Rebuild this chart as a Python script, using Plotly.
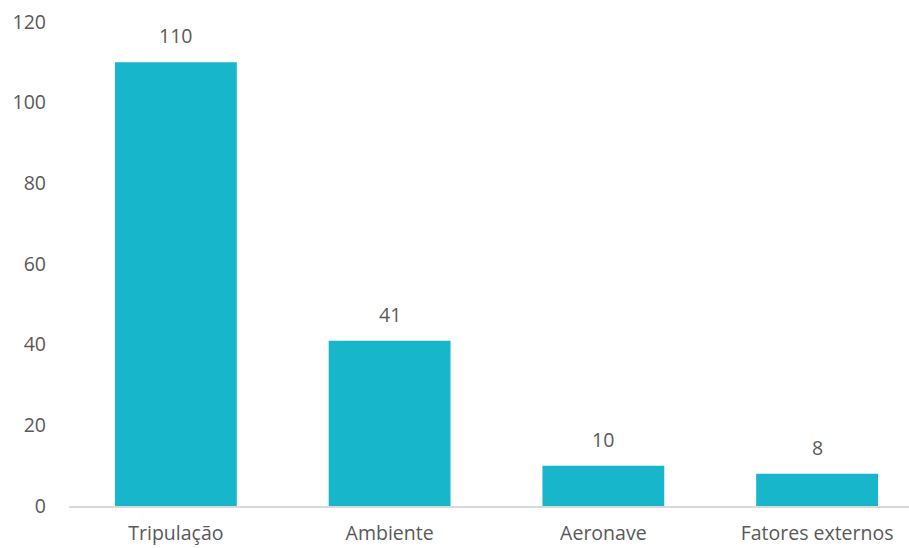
import plotly.graph_objects as go

categories = ["Tripulação", "Ambiente", "Aeronave", "Fatores externos"]
values = [110, 41, 10, 8]
y_ticks = [0, 20, 40, 60, 80, 100, 120]

bar_color = "#17B6CB"
text_color = "#595959"
font_family = "Open Sans"
fs = 19.5

fig = go.Figure()
fig.add_trace(go.Bar(
    x=categories, y=values, marker=dict(color=bar_color, line=dict(width=0)),
    hoverinfo="x+y",
))

for c, v in zip(categories, values):
    fig.add_annotation(x=c, y=v, text=str(v), showarrow=False,
                       yanchor="bottom", yshift=11,
                       font=dict(family=font_family, size=fs, color=text_color))

fig.update_layout(
    width=909, height=548,
    margin=dict(l=69, r=0, t=22, b=42),
    paper_bgcolor="white", plot_bgcolor="white",
    bargap=0.43,
    showlegend=False,
    font=dict(family=font_family, size=fs, color=text_color),
)
fig.update_xaxes(
    range=[-0.5, 3.43], showline=True, linecolor="#D9D9D9", linewidth=1.5,
    showgrid=False, ticks="", ticklabelstandoff=9, zeroline=False,
    automargin=False,
    tickfont=dict(family=font_family, size=fs, color=text_color),
)
fig.update_yaxes(
    range=[0, 120], tickvals=y_ticks, showgrid=False, zeroline=False,
    showline=False, ticks="", ticklabelstandoff=22, automargin=False,
    tickfont=dict(family=font_family, size=fs, color=text_color),
)

fig.write_html("out.html")
